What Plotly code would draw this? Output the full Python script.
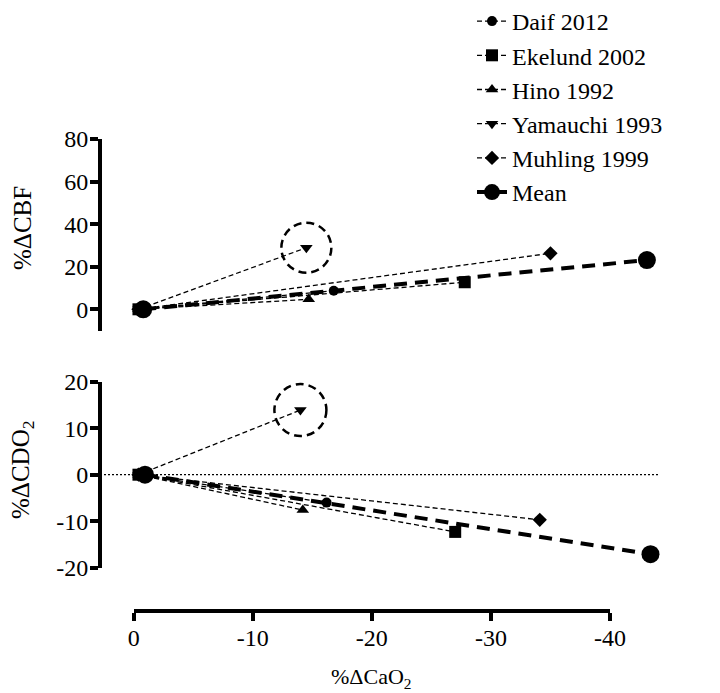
import plotly.graph_objects as go

# ---------------- data ----------------
studies = ["Daif 2012", "Ekelund 2002", "Hino 1992", "Yamauchi 1993", "Muhling 1999"]
symbols = ["circle", "square", "triangle-up", "triangle-down", "diamond"]

base_x = [-0.4, -0.4, -0.4, -0.4, -0.4]
cbf_x = [-16.8, -27.8, -14.7, -14.5, -35.0]
cbf_y = [8.7, 12.7, 4.7, 28.9, 26.3]
cdo2_x = [-16.2, -27.0, -14.2, -14.0, -34.1]
cdo2_y = [-6.0, -12.3, -7.6, 13.9, -9.7]

mean_cbf_x = [-0.8, -43.1]
mean_cbf_y = [0, 23.1]
mean_cdo2_x = [-0.95, -43.4]
mean_cdo2_y = [0, -17.1]

x_ticks = [0, -10, -20, -30, -40]
x_ticklabels = ["0", "-10", "-20", "-30", "-40"]
cbf_ticks = [0, 20, 40, 60, 80]
cbf_ticklabels = ["0", "20", "40", "60", "80"]
cdo2_ticks = [-20, -10, 0, 10, 20]
cdo2_ticklabels = ["-20", "-10", "0", "10", "20"]

# ---------------- layout helpers ----------------
OFF = 8                      # page body margin of the browser
W, H = 720 - OFF, 693 - OFF
FONT = "Liberation Serif"
FS = 24
sizes = [10, 12, 11, 11, 11]


def pxx(p):
    """window pixel x -> paper fraction"""
    return (p - OFF) / W


def pxy(p):
    """window pixel y -> paper fraction"""
    return 1 - (p - OFF) / H


X0PX, X40PX = 133.7, 610.0
slope = (X40PX - X0PX) / 40.0
PANEL_L, PANEL_R = 100.0, 660.0
panel_xrange = [(X0PX - PANEL_L) / slope, -(PANEL_R - X0PX) / slope]

fig = go.Figure()

# empty trace so that the shared bottom x axis subplot is created
fig.add_trace(go.Scatter(x=[], y=[], xaxis="x", yaxis="y", showlegend=False,
                         hoverinfo="skip"))

for i, name in enumerate(studies):
    common = dict(
        mode="lines+markers",
        name=name,
        legendgroup=name,
        line=dict(color="black", width=1.3, dash="5px,3px"),
        marker=dict(symbol=symbols[i], size=sizes[i], color="black"),
        cliponaxis=False,
    )
    fig.add_trace(go.Scatter(x=[base_x[i], cbf_x[i]], y=[0, cbf_y[i]],
                             xaxis="x2", yaxis="y2", showlegend=True, **common))
    fig.add_trace(go.Scatter(x=[base_x[i], cdo2_x[i]], y=[0, cdo2_y[i]],
                             xaxis="x3", yaxis="y3", showlegend=False, **common))

mean_common = dict(
    mode="lines+markers",
    name="Mean",
    legendgroup="Mean",
    line=dict(color="black", width=4, dash="13px,8px"),
    marker=dict(symbol="circle", size=18, color="black"),
    cliponaxis=False,
)
fig.add_trace(go.Scatter(x=mean_cbf_x, y=mean_cbf_y, xaxis="x2", yaxis="y2",
                         showlegend=True, **mean_common))
fig.add_trace(go.Scatter(x=mean_cdo2_x, y=mean_cdo2_y, xaxis="x3", yaxis="y3",
                         showlegend=False, **mean_common))

axis_line = dict(showline=True, linecolor="black", linewidth=4, ticks="outside",
                 ticklen=8, tickwidth=4, tickcolor="black", showgrid=False,
                 zeroline=False, automargin=False,
                 tickfont=dict(family=FONT, size=FS, color="black"))

fig.update_layout(
    template="none",
    width=W, height=H,
    margin=dict(l=0, r=0, t=0, b=0, pad=0, autoexpand=False),
    paper_bgcolor="white", plot_bgcolor="rgba(0,0,0,0)",
    font=dict(family=FONT, size=FS, color="black"),
    xaxis=dict(domain=[pxx(X0PX), pxx(X40PX)], range=[0, -40], anchor="free",
               position=pxy(611), tickmode="array", tickvals=x_ticks,
               ticktext=x_ticklabels, ticklabelstandoff=-4, **axis_line),
    yaxis=dict(visible=False, domain=[0, 0.01], range=[0, 1], automargin=False),
    xaxis2=dict(domain=[pxx(PANEL_L), pxx(PANEL_R)], range=panel_xrange,
                visible=False, anchor="y2", automargin=False),
    yaxis2=dict(domain=[pxy(330.6), pxy(138.9)], range=[-10, 80], anchor="free",
                position=pxx(PANEL_L), tickmode="array", tickvals=cbf_ticks,
                ticktext=cbf_ticklabels, ticklabelstandoff=-3, **axis_line),
    xaxis3=dict(domain=[pxx(PANEL_L), pxx(PANEL_R)], range=panel_xrange,
                visible=False, anchor="y3", automargin=False),
    yaxis3=dict(domain=[pxy(567.7), pxy(381.7)], range=[-20, 20], anchor="free",
                position=pxx(PANEL_L), tickmode="array", tickvals=cdo2_ticks,
                ticktext=cdo2_ticklabels, ticklabelstandoff=-3, **axis_line),
    legend=dict(x=pxx(472), xanchor="left", y=1 + 9 / H, yanchor="top",
                font=dict(family=FONT, size=FS, color="black"),
                bgcolor="rgba(0,0,0,0)", borderwidth=0, tracegroupgap=0),
    shapes=[
        dict(type="line", xref="x3 domain", yref="y3", x0=0, x1=1, y0=0, y1=0,
             layer="below", line=dict(color="black", width=1.2, dash="2px,2px")),
        dict(type="circle", xref="x2", yref="y2", xsizemode="pixel", ysizemode="pixel",
             xanchor=cbf_x[3], yanchor=cbf_y[3], x0=-25, x1=25, y0=-25, y1=25,
             line=dict(color="black", width=2.5, dash="8px,5px")),
        dict(type="circle", xref="x3", yref="y3", xsizemode="pixel", ysizemode="pixel",
             xanchor=cdo2_x[3], yanchor=cdo2_y[3], x0=-26, x1=26, y0=-26, y1=26,
             line=dict(color="black", width=2.5, dash="8px,5px")),
    ],
    annotations=[
        dict(text="%ΔCBF", x=pxx(22), y=pxy(228), xref="paper", yref="paper",
             textangle=-90, showarrow=False, xanchor="center", yanchor="middle",
             font=dict(family=FONT, size=25, color="black")),
        dict(text="%ΔCDO<sub>2</sub>", x=pxx(22), y=pxy(470), xref="paper", yref="paper",
             textangle=-90, showarrow=False, xanchor="center", yanchor="middle",
             font=dict(family=FONT, size=25, color="black")),
        dict(text="%ΔCaO<sub>2</sub>", x=pxx(371), y=pxy(678), xref="paper", yref="paper",
             showarrow=False, xanchor="center", yanchor="middle",
             font=dict(family=FONT, size=22, color="black")),
    ],
)

fig.write_html("out.html")
